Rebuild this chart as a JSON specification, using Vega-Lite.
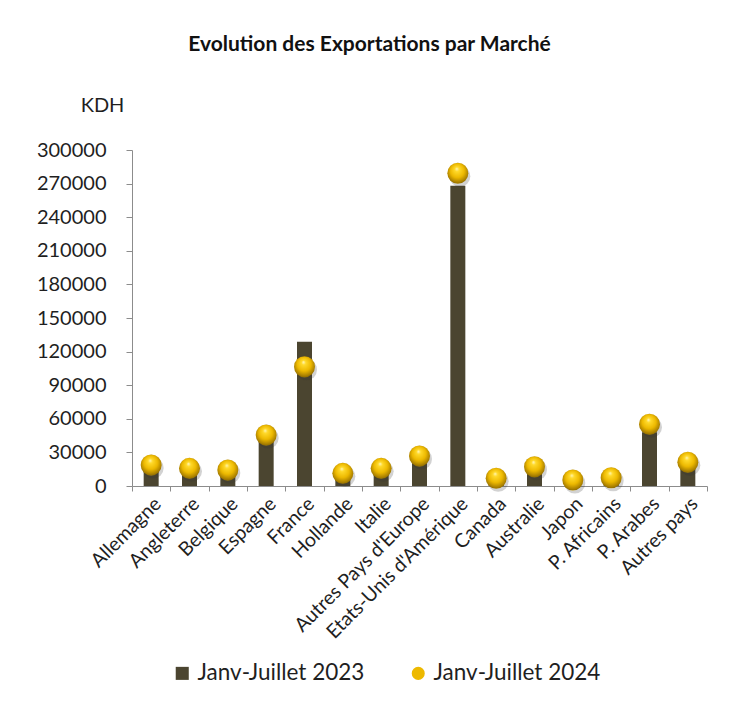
{
  "$schema": "https://vega.github.io/schema/vega-lite/v6.json",
  "autosize": "none",
  "width": 575,
  "height": 336,
  "padding": {"left": 132, "top": 150, "right": 35, "bottom": 220},
  "background": "white",
  "config": {
    "font": "Lato",
    "view": {"stroke": null},
    "axis": {"labelFont": "Lato", "titleFont": "Lato", "labelColor": "#1f1f1f", "titleColor": "#1f1f1f", "domainColor": "#8c8c8c", "tickColor": "#8c8c8c", "grid": false},
    "legend": {
      "title": null,
      "orient": "none",
      "legendX": 39,
      "legendY": 512,
      "direction": "horizontal",
      "columns": 2,
      "columnPadding": 42,
      "labelFontSize": 22.5,
      "labelFont": "Lato",
      "labelColor": "#1f1f1f",
      "labelLimit": 400,
      "symbolSize": 170,
      "labelOffset": 4,
      "symbolStrokeWidth": 0
    }
  },
  "title": {
    "text": "Evolution des Exportations par Marché",
    "font": "Lato",
    "fontSize": 21,
    "fontWeight": "bold",
    "color": "#111111",
    "anchor": "middle",
    "frame": "group",
    "dx": -50,
    "offset": 40
  },
  "data": {
    "values": [
      {"pays": "Allemagne", "serie": "Janv-Juillet 2023", "valeur": 14000},
      {"pays": "Angleterre", "serie": "Janv-Juillet 2023", "valeur": 12000},
      {"pays": "Belgique", "serie": "Janv-Juillet 2023", "valeur": 11000},
      {"pays": "Espagne", "serie": "Janv-Juillet 2023", "valeur": 40000},
      {"pays": "France", "serie": "Janv-Juillet 2023", "valeur": 128800},
      {"pays": "Hollande", "serie": "Janv-Juillet 2023", "valeur": 9000},
      {"pays": "Italie", "serie": "Janv-Juillet 2023", "valeur": 12000},
      {"pays": "Autres Pays d'Europe", "serie": "Janv-Juillet 2023", "valeur": 22000},
      {"pays": "Etats-Unis d'Amérique", "serie": "Janv-Juillet 2023", "valeur": 268000},
      {"pays": "Canada", "serie": "Janv-Juillet 2023", "valeur": 5000},
      {"pays": "Australie", "serie": "Janv-Juillet 2023", "valeur": 13000},
      {"pays": "Japon", "serie": "Janv-Juillet 2023", "valeur": 4000},
      {"pays": "P. Africains", "serie": "Janv-Juillet 2023", "valeur": 6000},
      {"pays": "P. Arabes", "serie": "Janv-Juillet 2023", "valeur": 48000},
      {"pays": "Autres pays", "serie": "Janv-Juillet 2023", "valeur": 17000},
      {"pays": "Allemagne", "serie": "Janv-Juillet 2024", "valeur": 18750},
      {"pays": "Angleterre", "serie": "Janv-Juillet 2024", "valeur": 15800},
      {"pays": "Belgique", "serie": "Janv-Juillet 2024", "valeur": 14300},
      {"pays": "Espagne", "serie": "Janv-Juillet 2024", "valeur": 45500},
      {"pays": "France", "serie": "Janv-Juillet 2024", "valeur": 106500},
      {"pays": "Hollande", "serie": "Janv-Juillet 2024", "valeur": 11300},
      {"pays": "Italie", "serie": "Janv-Juillet 2024", "valeur": 15800},
      {"pays": "Autres Pays d'Europe", "serie": "Janv-Juillet 2024", "valeur": 26800},
      {"pays": "Etats-Unis d'Amérique", "serie": "Janv-Juillet 2024", "valeur": 279200},
      {"pays": "Canada", "serie": "Janv-Juillet 2024", "valeur": 6900},
      {"pays": "Australie", "serie": "Janv-Juillet 2024", "valeur": 17200},
      {"pays": "Japon", "serie": "Janv-Juillet 2024", "valeur": 5400},
      {"pays": "P. Africains", "serie": "Janv-Juillet 2024", "valeur": 7400},
      {"pays": "P. Arabes", "serie": "Janv-Juillet 2024", "valeur": 55100},
      {"pays": "Autres pays", "serie": "Janv-Juillet 2024", "valeur": 21200}
    ]
  },
  "encoding": {
    "x": {
      "field": "pays",
      "type": "nominal",
      "sort": null,
      "title": null,
      "scale": {"paddingInner": 0, "paddingOuter": 0},
      "axis": {"labelAngle": -45, "labelFontSize": 19.5, "tickBand": "extent", "tickSize": 5, "labelPadding": 3, "labelLimit": 300}
    },
    "y": {
      "field": "valeur",
      "type": "quantitative",
      "scale": {"domain": [0, 300000], "nice": false},
      "axis": {
        "values": [0, 30000, 60000, 90000, 120000, 150000, 180000, 210000, 240000, 270000, 300000],
        "format": "d",
        "labelFontSize": 20,
        "tickSize": 6,
        "labelPadding": 20,
        "title": "KDH",
        "titleAngle": 0,
        "titleX": -30,
        "titleY": -45,
        "titleAlign": "center",
        "titleBaseline": "middle",
        "titleFontSize": 20,
        "titleFontWeight": "normal"
      }
    }
  },
  "layer": [
    {
      "transform": [{"filter": "datum.serie === 'Janv-Juillet 2023'"}],
      "mark": {"type": "bar", "size": 15},
      "encoding": {
        "color": {
          "field": "serie",
          "type": "nominal",
          "scale": {"domain": ["Janv-Juillet 2023", "Janv-Juillet 2024"], "range": ["#4b4530", "#edb900"]}
        }
      }
    },
    {
      "transform": [{"filter": "datum.serie === 'Janv-Juillet 2024'"}],
      "mark": {"type": "point", "filled": true, "size": 441, "opacity": 0.22, "color": "#333333", "xOffset": 2, "yOffset": 3},
      "encoding": {}
    },
    {
      "transform": [{"filter": "datum.serie === 'Janv-Juillet 2024'"}],
      "mark": {
        "type": "point",
        "filled": true,
        "size": 441,
        "opacity": 1,
        "strokeWidth": 0,
        "fill": {
          "gradient": "radial",
          "x1": 0.45, "y1": 0.28, "r1": 0,
          "x2": 0.5, "y2": 0.45, "r2": 0.6,
          "stops": [
            {"offset": 0, "color": "#fff8c0"},
            {"offset": 0.18, "color": "#ffd92a"},
            {"offset": 0.55, "color": "#edb900"},
            {"offset": 0.85, "color": "#a97f00"},
            {"offset": 1, "color": "#7a5c00"}
          ]
        }
      },
      "encoding": {
        "shape": {
          "field": "serie",
          "type": "nominal",
          "scale": {"domain": ["Janv-Juillet 2023", "Janv-Juillet 2024"], "range": ["square", "circle"]}
        },
        "color": {"field": "serie", "type": "nominal"}
      }
    }
  ]
}
